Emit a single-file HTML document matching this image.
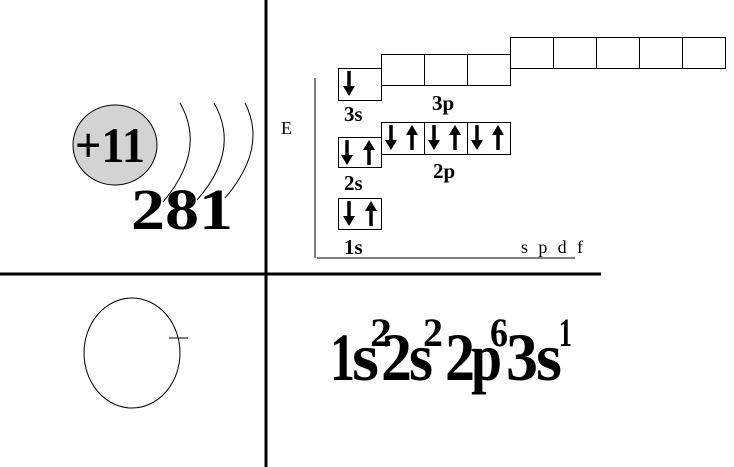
<!DOCTYPE html>
<html><head><meta charset="utf-8"><style>
html,body{margin:0;padding:0;background:#fff;}
svg{display:block}
</style></head><body>
<svg width="734" height="467" viewBox="0 0 734 467" xmlns="http://www.w3.org/2000/svg">
<defs>
<g id="dn"><line x1="0" y1="0" x2="0" y2="18" stroke="#000" stroke-width="3.5"/><polygon points="-6,15 6,15 0,25" fill="#000"/></g>
<g id="up"><line x1="0" y1="7" x2="0" y2="25" stroke="#000" stroke-width="3.5"/><polygon points="-6,10 6,10 0,0" fill="#000"/></g>
</defs>
<line x1="266" y1="0" x2="266" y2="467" stroke="#000" stroke-width="3"/>
<line x1="0" y1="274" x2="601" y2="274" stroke="#000" stroke-width="3"/>

<ellipse cx="115" cy="145" rx="42" ry="40" fill="#d3d3d3" stroke="#000" stroke-width="1"/>
<text x="75" y="162" font-family="Liberation Serif, serif" font-weight="bold" font-size="50" textLength="70" lengthAdjust="spacingAndGlyphs">+11</text>
<path d="M180,103 Q207,150 163,202" fill="none" stroke="#000" stroke-width="1"/>
<path d="M214,103 Q241,150 197,200" fill="none" stroke="#000" stroke-width="1"/>
<path d="M245,103 Q268,148 225,198" fill="none" stroke="#000" stroke-width="1"/>
<text x="131" y="229" font-family="Liberation Serif, serif" font-weight="bold" font-size="58" textLength="102" lengthAdjust="spacingAndGlyphs">281</text>

<text x="281" y="134" font-family="Liberation Serif, serif" font-size="18">E</text>
<line x1="315" y1="78" x2="315" y2="258" stroke="#000" stroke-width="1"/>
<line x1="317" y1="258" x2="575" y2="258" stroke="#000" stroke-width="1"/>
<text x="521" y="253" font-family="Liberation Serif, serif" font-size="18" textLength="62" lengthAdjust="spacing">s p d f</text>

<g fill="none" stroke="#000" stroke-width="1">
<rect x="338.5" y="68.5" width="43" height="32"/>
<rect x="381.5" y="54.5" width="129" height="31"/>
<line x1="424.5" y1="54" x2="424.5" y2="85"/><line x1="467.5" y1="54" x2="467.5" y2="85"/>
<rect x="510.5" y="37.5" width="215" height="31"/>
<line x1="553.5" y1="37" x2="553.5" y2="68"/><line x1="596.5" y1="37" x2="596.5" y2="68"/><line x1="639.5" y1="37" x2="639.5" y2="68"/><line x1="682.5" y1="37" x2="682.5" y2="68"/>
<rect x="338.5" y="137.5" width="43" height="30"/>
<rect x="381.5" y="122.5" width="129" height="32"/>
<line x1="424.5" y1="122" x2="424.5" y2="154"/><line x1="467.5" y1="122" x2="467.5" y2="154"/>
<rect x="338.5" y="198.5" width="43" height="31"/>
</g>
<use href="#dn" x="349" y="71"/>
<use href="#dn" x="347" y="140"/><use href="#up" x="369" y="140"/>
<use href="#dn" x="391" y="125"/><use href="#up" x="412" y="125"/>
<use href="#dn" x="434" y="125"/><use href="#up" x="455" y="125"/>
<use href="#dn" x="477" y="125"/><use href="#up" x="498" y="125"/>
<use href="#dn" x="349" y="201"/><use href="#up" x="371" y="201"/>

<g font-family="Liberation Serif, serif" font-weight="bold" font-size="21">
<text x="344" y="121">3s</text>
<text x="432" y="110">3p</text>
<text x="344" y="190">2s</text>
<text x="433" y="178">2p</text>
<text x="344" y="254">1s</text>
</g>

<ellipse cx="132" cy="353" rx="48" ry="55" fill="none" stroke="#000" stroke-width="1"/>
<line x1="169" y1="338" x2="188" y2="338" stroke="#000" stroke-width="1"/>

<g font-family="Liberation Serif, serif" font-weight="bold" font-size="68">
<text x="330" y="380" textLength="25" lengthAdjust="spacingAndGlyphs">1</text>
<text x="352" y="380" textLength="27" lengthAdjust="spacingAndGlyphs">s</text>
<text x="381" y="380" textLength="31" lengthAdjust="spacingAndGlyphs">2</text>
<text x="409" y="380" textLength="24" lengthAdjust="spacingAndGlyphs">s</text>
<text x="445" y="380" textLength="30" lengthAdjust="spacingAndGlyphs">2</text>
<text x="471" y="380" textLength="31" lengthAdjust="spacingAndGlyphs">p</text>
<text x="506" y="380" textLength="32" lengthAdjust="spacingAndGlyphs">3</text>
<text x="536" y="380" textLength="26" lengthAdjust="spacingAndGlyphs">s</text>
</g>
<g font-family="Liberation Serif, serif" font-weight="bold" font-size="40">
<text x="370" y="346" textLength="22" lengthAdjust="spacingAndGlyphs">2</text>
<text x="423" y="346" textLength="20" lengthAdjust="spacingAndGlyphs">2</text>
<text x="490" y="346" textLength="18" lengthAdjust="spacingAndGlyphs">6</text>
<text x="559" y="346" textLength="13" lengthAdjust="spacingAndGlyphs">1</text>
</g>
</svg>
</body></html>
